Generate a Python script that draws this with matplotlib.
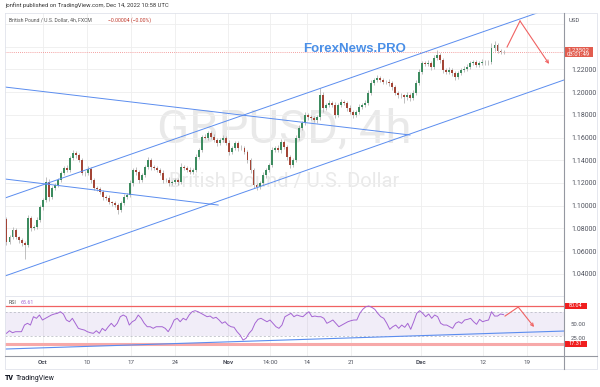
import numpy as np
import matplotlib
matplotlib.use('Agg')
import matplotlib.pyplot as plt
import matplotlib.transforms as mtransforms
from matplotlib.lines import Line2D
from matplotlib.patches import Rectangle

plt.rcParams['font.family'] = ['Roboto', 'DejaVu Sans']

W, H = 600, 387

# 4h GBPUSD closes (roughly every other bar)
close = [
    1.0681, 1.0725, 1.0787, 1.0725, 1.0699, 1.0672, 1.0655, 1.0892, 1.0804, 1.0812,
    1.0875, 1.0989, 1.1050, 1.1209, 1.1077, 1.1156, 1.1182, 1.1226, 1.1288, 1.1332,
    1.1314, 1.1420, 1.1464, 1.1446, 1.1402, 1.1288, 1.1290, 1.1323, 1.1226, 1.1156,
    1.1150, 1.1121, 1.1077, 1.1068, 1.1033, 1.1024, 1.1006, 1.0963, 1.1024, 1.1077,
    1.1094, 1.1200, 1.1314, 1.1297, 1.1226, 1.1270, 1.1341, 1.1402, 1.1341, 1.1332,
    1.1314, 1.1288, 1.1226, 1.1230, 1.1200, 1.1209, 1.1226, 1.1209, 1.1341, 1.1332,
    1.1314, 1.1297, 1.1314, 1.1429, 1.1490, 1.1605, 1.1600, 1.1640, 1.1605, 1.1578,
    1.1552, 1.1578, 1.1596, 1.1552, 1.1473, 1.1508, 1.1552, 1.1508, 1.1505, 1.1473,
    1.1402, 1.1314, 1.1182, 1.1165, 1.1200, 1.1270, 1.1314, 1.1358, 1.1490, 1.1508,
    1.1490, 1.1561, 1.1517, 1.1429, 1.1358, 1.1402, 1.1596, 1.1684, 1.1728, 1.1798,
    1.1780, 1.1772, 1.1754, 1.1780, 1.1974, 1.1860, 1.1886, 1.1904, 1.1886, 1.1798,
    1.1886, 1.1912, 1.1904, 1.1860, 1.1824, 1.1798, 1.1824, 1.1868, 1.1886, 1.1904,
    1.1992, 1.2080, 1.2106, 1.2123, 1.2106, 1.2088, 1.2090, 1.2080, 1.2044, 1.1992,
    1.1974, 1.1970, 1.1956, 1.1974, 1.1948, 1.1992, 1.2080, 1.2176, 1.2255, 1.2250,
    1.2258, 1.2220, 1.2299, 1.2326, 1.2282, 1.2194, 1.2176, 1.2194, 1.2167, 1.2132,
    1.2167, 1.2194, 1.2203, 1.2220, 1.2255, 1.2264, 1.2238, 1.2255, 1.2264, 1.2260,
    1.2264, 1.2387, 1.2414, 1.2361, 1.2352, 1.2350,
]
first_open = 1.0883

# wick lengths in pips above / below the body
upper_wick = [
    20, 15, 25, 18, 12, 20, 15, 30, 22, 18,
    25, 20, 18, 40, 25, 20, 15, 22, 18, 20,
    25, 18, 30, 20, 15, 22, 18, 25, 20, 15,
    18, 12, 20, 15, 22, 12, 18, 15, 20, 25,
    18, 30, 22, 25, 15, 20, 18, 30, 22, 15,
    20, 18, 25, 15, 20, 18, 22, 15, 35, 20,
    18, 25, 20, 30, 22, 18, 25, 20, 15, 22,
    18, 20, 25, 15, 22, 18, 20, 15, 25, 18,
    15, 20, 18, 22, 15, 25, 20, 18, 30, 20,
    25, 30, 18, 15, 20, 22, 25, 30, 20, 25,
    18, 20, 15, 22, 60, 25, 20, 30, 18, 22,
    20, 25, 18, 15, 22, 18, 20, 25, 18, 22,
    30, 25, 20, 25, 18, 20, 15, 22, 18, 15,
    20, 18, 15, 22, 18, 25, 30, 25, 20, 18,
    22, 18, 30, 45, 20, 18, 15, 22, 18, 15,
    20, 18, 22, 25, 20, 18, 22, 20, 25, 18,
    20, 40, 35, 20, 18, 15,
]
lower_wick = [
    25, 20, 18, 22, 30, 25, 120, 20, 25, 18,
    20, 15, 25, 20, 35, 22, 18, 20, 15, 22,
    18, 20, 15, 25, 20, 22, 30, 18, 25, 20,
    22, 18, 25, 20, 18, 25, 20, 35, 18, 15,
    20, 18, 25, 30, 22, 18, 20, 15, 25, 20,
    18, 22, 25, 20, 30, 22, 18, 25, 15, 20,
    18, 22, 20, 15, 18, 20, 15, 22, 18, 20,
    25, 18, 20, 22, 25, 18, 20, 25, 18, 22,
    30, 25, 22, 30, 20, 18, 22, 20, 15, 18,
    20, 22, 18, 25, 30, 20, 15, 18, 20, 15,
    22, 18, 20, 25, 30, 35, 20, 18, 22, 30,
    18, 20, 22, 25, 20, 25, 18, 20, 15, 18,
    15, 20, 18, 20, 22, 18, 20, 25, 30, 22,
    25, 20, 50, 22, 30, 15, 20, 18, 20, 22,
    18, 25, 15, 20, 25, 30, 20, 18, 22, 25,
    20, 18, 20, 18, 15, 20, 22, 18, 20, 18,
    22, 18, 25, 20, 18, 15,
]

rsi = [
    34.5, 38.8, 35.5, 37.2, 37.2, 37.2, 48.3, 51.2, 48.3, 62.2,
    59.5, 65.0, 56.7, 59.5, 62.2, 65.0, 66.7, 67.8, 70.5, 66.7,
    56.7, 53.8, 59.5, 51.2, 42.8, 41.2, 40.0, 37.2, 35.5, 34.5,
    38.8, 34.5, 42.8, 38.8, 45.5, 51.2, 45.5, 51.2, 62.2, 65.0,
    62.2, 48.3, 53.8, 56.7, 65.0, 59.5, 51.2, 45.5, 45.5, 42.8,
    45.5, 45.5, 45.5, 42.8, 37.2, 45.5, 56.7, 59.5, 53.8, 59.5,
    56.7, 65.0, 70.5, 72.2, 70.5, 67.8, 65.0, 62.2, 63.3, 59.5,
    61.2, 56.7, 51.2, 53.8, 48.3, 45.5, 44.5, 37.2, 31.7, 23.3,
    26.2, 34.5, 40.0, 51.2, 57.8, 59.5, 56.7, 53.8, 56.7, 51.2,
    45.5, 42.8, 48.3, 62.2, 65.0,
    67.8, 62.2, 65.0, 63.3, 62.2, 66.7, 70.5, 62.2, 63.3, 62.2,
    62.2, 59.5, 51.2, 53.8, 56.7, 51.2, 45.5, 48.3, 51.2, 53.8,
    55.5, 56.7, 56.7, 67.8, 74.5, 78.8, 80.0, 77.8, 74.5, 67.8,
    62.2, 59.5, 51.2, 41.2, 45.5, 48.3, 42.8, 48.3, 44.5, 51.2,
    41.2, 53.8, 67.8, 72.2, 67.8, 62.2, 66.7, 59.5, 65.0, 62.2,
    51.2, 48.3, 48.3, 45.5, 42.8, 51.2, 53.8, 51.2, 56.7, 57.8,
    59.5, 53.8, 49.5, 57.8, 53.8, 55.5, 56.7, 70.5, 63.3, 63.3,
    66.7, 65.61,
]

# time axis in trading days from Mon Sep 26
t_first, t_last = 0.85, 57.33
date_ticks = [5, 10, 15, 20, 26, 30.8, 35, 40, 48, 55, 60]
date_labels = ['Oct', '10', '17', '24', 'Nov', '14:00', '14', '21', 'Dec', '12', '19']
price_ticks = [1.04, 1.06, 1.08, 1.10, 1.12, 1.14, 1.16, 1.18, 1.20, 1.22, 1.24, 1.26]
last_price = 1.23502

# drawings (day, value)
channel_upper = [(0.68, 1.1068), (61.14, 1.2695)]
channel_lower = [(0.68, 1.0382), (64.2, 1.2106)]
fan_line_1 = [(0.68, 1.2044), (46.7, 1.1622)]
fan_line_2 = [(0.68, 1.1235), (24.9, 1.1006)]
arrow_price = [(57.73, 1.2396), (59.2, 1.2625), (62.5, 1.2247)]
rsi_trend = [(0.68, 8.3), (64.2, 38.3)]
arrow_rsi = [(57.5, 63.3), (59.0, 78.3), (60.8, 45.0)]
rsi_levels = [80.04, 17.31]

UP, DOWN, WICK = '#3d8b5f', '#a34536', '#a6a6a6'
BLUE, RED, PURPLE = '#5b8def', '#f06262', '#a565d3'
GRID, TXT = '#eeeeee', '#50535e'

fig = plt.figure(figsize=(W / 100, H / 100), dpi=100)
ax = fig.add_axes([5 / W, 1 - 296 / H, 559 / W, 283 / H])
axr = fig.add_axes([5 / W, 1 - 356 / H, 559 / W, 60 / H])

# ---- main pane
c = np.array(close)
o = np.concatenate([[first_open], c[:-1]])
t = np.linspace(t_first, t_last, len(c))
hi = np.maximum(o, c) + np.array(upper_wick) * 1e-4
lo = np.minimum(o, c) - np.array(lower_wick) * 1e-4
cols = [UP if cc >= oo else DOWN for oo, cc in zip(o, c)]
ax.vlines(t, lo, hi, color=WICK, lw=0.5, zorder=3)
ax.bar(t, np.maximum(np.abs(c - o), 0.0004), bottom=np.minimum(o, c),
       width=0.22, color=cols, zorder=4, linewidth=0)

for ln in (channel_upper, channel_lower, fan_line_1, fan_line_2):
    xs, ys = zip(*ln)
    ax.plot(xs, ys, color=BLUE, lw=0.7, zorder=5)

xs, ys = zip(*arrow_price[:2])
ax.plot(xs, ys, color=RED, lw=0.8, zorder=5)
ax.annotate('', xy=arrow_price[2], xytext=arrow_price[1],
            arrowprops=dict(arrowstyle='->', color=RED, lw=0.8,
                            shrinkA=0, shrinkB=0, mutation_scale=5), zorder=5)

ax.axhline(last_price, color='#f08080', lw=0.6, ls=(0, (1, 1.5)), zorder=2)

ax.text(0.5, 0.587, 'GBPUSD, 4h', transform=ax.transAxes, ha='center', va='center',
        fontsize=34, color='#e9e9e9', zorder=0)
ax.text(0.5, 0.403, 'British Pound / U.S. Dollar', transform=ax.transAxes,
        ha='center', va='center', fontsize=14.5, color='#e9e9e9', zorder=0)

ax.set_xlim(0.68, 64.2)
ax.set_ylim(1.0206, 1.2695)
ax.set_xticks(date_ticks)
ax.tick_params(axis='x', length=0, labelbottom=False)
ax.yaxis.tick_right()
ax.set_yticks(price_ticks)
ax.set_yticklabels(['%.5f' % p if p < 1.23 else '' for p in price_ticks])
ax.tick_params(axis='y', length=0, labelsize=5, colors=TXT, pad=5)
ax.grid(color=GRID, lw=0.6, zorder=0)
ax.set_axisbelow(True)
for s in ax.spines.values():
    s.set_visible(False)

blend = mtransforms.blended_transform_factory(ax.transAxes, ax.transData)
bw = 29 / 559
ax.add_patch(Rectangle((1.0, last_price - 0.0044), bw, 0.0088, transform=blend,
                       facecolor='#e25c4e', edgecolor='none', clip_on=False, zorder=6))
ax.text(1.0 + bw / 2, last_price + 0.0019, '1.23502', transform=blend, ha='center',
        va='center', fontsize=4.3, color='white', zorder=7)
ax.text(1.0 + bw / 2, last_price - 0.0020, '03:01:49', transform=blend, ha='center',
        va='center', fontsize=4.3, color='white', zorder=7)

# ---- RSI pane
tr = np.linspace(t_first, t_last, len(rsi))
axr.axhspan(30, 70, color='#7e57c2', alpha=0.1, lw=0, zorder=1)
axr.axhline(70, color='#b2b5be', lw=0.5, ls=(0, (3, 3)), zorder=2)
axr.axhline(30, color='#b2b5be', lw=0.5, ls=(0, (3, 3)), zorder=2)
axr.axhline(rsi_levels[0], color=RED, lw=0.9, zorder=3)
axr.axhline(rsi_levels[1], color='#f7a9a9', lw=2.2, zorder=3)
xs, ys = zip(*rsi_trend)
axr.plot(xs, ys, color=BLUE, lw=0.8, zorder=4)
axr.plot(tr, rsi, color=PURPLE, lw=0.7, zorder=5)
xs, ys = zip(*arrow_rsi[:2])
axr.plot(xs, ys, color=RED, lw=0.8, zorder=5)
axr.annotate('', xy=arrow_rsi[2], xytext=arrow_rsi[1],
             arrowprops=dict(arrowstyle='->', color=RED, lw=0.8,
                             shrinkA=0, shrinkB=0, mutation_scale=5), zorder=5)

axr.set_xlim(0.68, 64.2)
axr.set_ylim(-3.3, 96.7)
axr.set_xticks(date_ticks)
axr.set_xticklabels(date_labels)
for lab in axr.get_xticklabels():
    if lab.get_text() in ('Oct', 'Nov', 'Dec'):
        lab.set_fontweight('bold')
axr.tick_params(axis='x', length=0, labelsize=4.5, colors=TXT, pad=3)
axr.yaxis.tick_right()
axr.set_yticks([27, 50])
axr.set_yticklabels(['25.00', '50.00'])
axr.tick_params(axis='y', length=0, labelsize=4.3, colors=TXT, pad=5)
axr.grid(axis='x', color=GRID, lw=0.6, zorder=0)
axr.set_axisbelow(True)
for s in axr.spines.values():
    s.set_visible(False)

blend_r = mtransforms.blended_transform_factory(axr.transAxes, axr.transData)
rw = 23 / 559
for lv in rsi_levels:
    axr.add_patch(Rectangle((1.0, lv - 5), rw, 10, transform=blend_r, facecolor='#f01e1e',
                            edgecolor='none', clip_on=False, zorder=6))
    axr.text(1.0 + rw / 2, lv, '%.2f' % lv, transform=blend_r, ha='center', va='center',
             fontsize=4.0, color='white', zorder=7)

# ---- frame and separators
def fig_line(xpx, ypx, color, lw=0.6):
    fig.add_artist(Line2D([x / W for x in xpx], [1 - y / H for y in ypx],
                          transform=fig.transFigure, color=color, lw=lw))

fig_line([5, 597, 597, 5, 5], [13, 13, 369, 369, 13], '#e0e3eb')
fig_line([5, 564], [296, 296], '#e0e3eb')
fig_line([5, 597], [356, 356], '#9598a1', 0.8)
fig_line([564, 564], [13, 369], '#9598a1', 0.8)

# ---- texts
fig.text(5 / W, 1 - 5 / H, 'jonfint published on TradingView.com, Dec 14, 2022 10:58 UTC',
         fontsize=4.2, color='#333333', va='center')
fig.text(9 / W, 1 - 20.5 / H, 'British Pound / U.S. Dollar, 4h, FXCM',
         fontsize=3.7, color='#555555', va='center')
fig.text(108 / W, 1 - 20.5 / H, '\u22120.00004 (\u22120.00%)',
         fontsize=3.7, color='#c0392b', va='center')
fig.text(569 / W, 1 - 20 / H, 'USD', fontsize=4.3, color=TXT, va='center')
fig.text(355 / W, 1 - 49 / H, 'ForexNews.PRO', fontsize=9.5, fontweight='bold',
         color='#4a8fe7', ha='center', va='center', family='Liberation Sans')
fig.text(9 / W, 1 - 303 / H, 'RSI', fontsize=3.8, color='#555555', va='center')
fig.text(21 / W, 1 - 303 / H, '65.61', fontsize=3.8, color=PURPLE, va='center')
fig.text(5 / W, 1 - 378 / H, 'TV', fontsize=5, fontweight='heavy', color='#131722',
         va='center')
fig.text(16 / W, 1 - 378 / H, 'TradingView', fontsize=5, color='#131722', va='center')

fig.savefig('out.png', dpi=100, facecolor='white')
